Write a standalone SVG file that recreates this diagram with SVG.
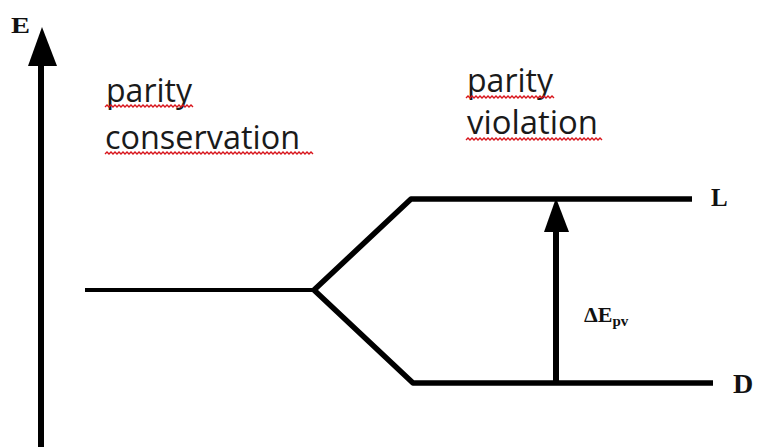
<svg xmlns="http://www.w3.org/2000/svg" width="757" height="447" viewBox="0 0 757 447">
<style>
.ln{stroke:#000;fill:none;stroke-linejoin:round}
.lbl{font-family:"Open Sans",sans-serif;font-size:32px;fill:#1a1a1a}
.ser{font-family:"Liberation Serif",serif;font-weight:bold;fill:#111}
.wave{stroke:#d8141b;stroke-width:1.4;fill:none}
</style>
<rect width="757" height="447" fill="#fff"/>
<g id="axis">
<line class="ln" x1="41" y1="60" x2="41" y2="447" stroke-width="6"/>
<polygon points="42,27 28,66 57,66" fill="#000"/>
<text class="ser" x="11" y="33" font-size="23" textLength="19" lengthAdjust="spacingAndGlyphs">E</text>
</g>
<g id="connectors">
<line class="ln" x1="85" y1="290" x2="314" y2="290" stroke-width="4"/>
<polyline class="ln" points="314,290 411,199 692,199" stroke-width="5.5"/>
<polyline class="ln" points="314,290 413,383 713,383" stroke-width="5.5"/>
<line class="ln" x1="556" y1="383" x2="556" y2="228" stroke-width="6"/>
<polygon points="556,198 544,232 569,232" fill="#000"/>
</g>
<g id="label-conservation">
<text class="lbl" x="106" y="102" textLength="86" lengthAdjust="spacingAndGlyphs">parity</text>
<path class="wave" d="M105,107 l2,-2 l2,2 l2,-2 l2,2 l2,-2 l2,2 l2,-2 l2,2 l2,-2 l2,2 l2,-2 l2,2 l2,-2 l2,2 l2,-2 l2,2 l2,-2 l2,2 l2,-2 l2,2 l2,-2 l2,2 l2,-2 l2,2 l2,-2 l2,2 l2,-2 l2,2 l2,-2 l2,2 l2,-2 l2,2 l2,-2 l2,2 l2,-2 l2,2 l2,-2 l2,2 l2,-2 l2,2 l2,-2 l2,2 l2,-2 l2,2"/>
<text class="lbl" x="105" y="149" textLength="195" lengthAdjust="spacingAndGlyphs">conservation</text>
<path class="wave" d="M105,154 l2,-2 l2,2 l2,-2 l2,2 l2,-2 l2,2 l2,-2 l2,2 l2,-2 l2,2 l2,-2 l2,2 l2,-2 l2,2 l2,-2 l2,2 l2,-2 l2,2 l2,-2 l2,2 l2,-2 l2,2 l2,-2 l2,2 l2,-2 l2,2 l2,-2 l2,2 l2,-2 l2,2 l2,-2 l2,2 l2,-2 l2,2 l2,-2 l2,2 l2,-2 l2,2 l2,-2 l2,2 l2,-2 l2,2 l2,-2 l2,2 l2,-2 l2,2 l2,-2 l2,2 l2,-2 l2,2 l2,-2 l2,2 l2,-2 l2,2 l2,-2 l2,2 l2,-2 l2,2 l2,-2 l2,2 l2,-2 l2,2 l2,-2 l2,2 l2,-2 l2,2 l2,-2 l2,2 l2,-2 l2,2 l2,-2 l2,2 l2,-2 l2,2 l2,-2 l2,2 l2,-2 l2,2 l2,-2 l2,2 l2,-2 l2,2 l2,-2 l2,2 l2,-2 l2,2 l2,-2 l2,2 l2,-2 l2,2 l2,-2 l2,2 l2,-2 l2,2 l2,-2 l2,2 l2,-2 l2,2 l2,-2 l2,2 l2,-2 l2,2 l2,-2 l2,2"/>
</g>
<g id="label-violation">
<text class="lbl" x="467" y="92" textLength="86" lengthAdjust="spacingAndGlyphs">parity</text>
<path class="wave" d="M466,98 l2,-2 l2,2 l2,-2 l2,2 l2,-2 l2,2 l2,-2 l2,2 l2,-2 l2,2 l2,-2 l2,2 l2,-2 l2,2 l2,-2 l2,2 l2,-2 l2,2 l2,-2 l2,2 l2,-2 l2,2 l2,-2 l2,2 l2,-2 l2,2 l2,-2 l2,2 l2,-2 l2,2 l2,-2 l2,2 l2,-2 l2,2 l2,-2 l2,2 l2,-2 l2,2 l2,-2 l2,2 l2,-2 l2,2 l2,-2 l2,2"/>
<text class="lbl" x="467" y="134" textLength="131" lengthAdjust="spacingAndGlyphs">violation</text>
<path class="wave" d="M466,140 l2,-2 l2,2 l2,-2 l2,2 l2,-2 l2,2 l2,-2 l2,2 l2,-2 l2,2 l2,-2 l2,2 l2,-2 l2,2 l2,-2 l2,2 l2,-2 l2,2 l2,-2 l2,2 l2,-2 l2,2 l2,-2 l2,2 l2,-2 l2,2 l2,-2 l2,2 l2,-2 l2,2 l2,-2 l2,2 l2,-2 l2,2 l2,-2 l2,2 l2,-2 l2,2 l2,-2 l2,2 l2,-2 l2,2 l2,-2 l2,2 l2,-2 l2,2 l2,-2 l2,2 l2,-2 l2,2 l2,-2 l2,2 l2,-2 l2,2 l2,-2 l2,2 l2,-2 l2,2 l2,-2 l2,2 l2,-2 l2,2 l2,-2 l2,2 l2,-2 l2,2 l2,-2 l2,2"/>
</g>
<g id="level-L">
<text class="ser" x="711" y="206" font-size="25">L</text>
</g>
<g id="level-D">
<text class="ser" x="733" y="393" font-size="28">D</text>
</g>
<g id="delta-E">
<text class="ser" x="584" y="322" font-size="22">ΔE<tspan font-size="15" dy="4">pv</tspan></text>
</g>
</svg>
